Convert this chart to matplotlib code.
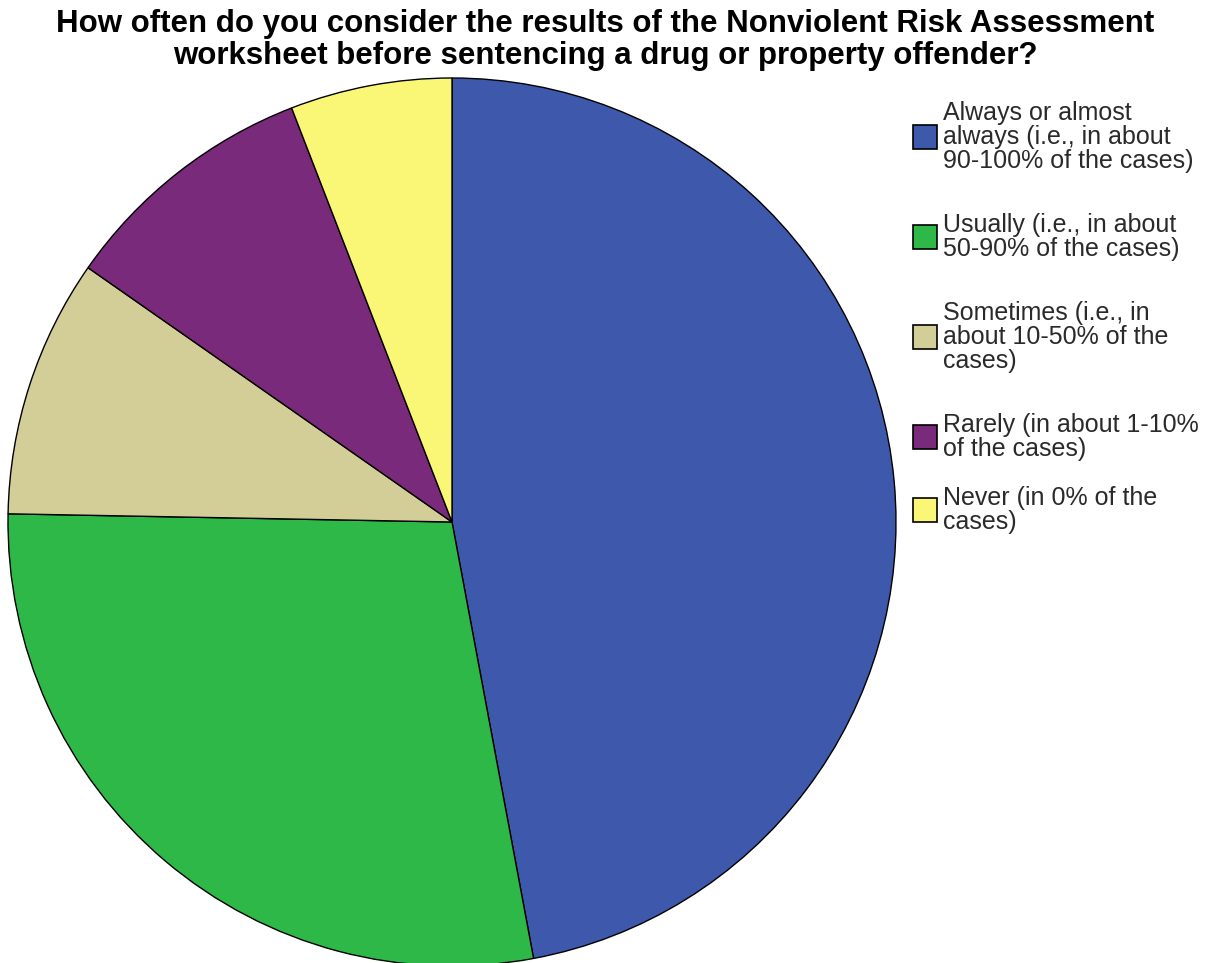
import matplotlib
matplotlib.use("Agg")
import matplotlib.pyplot as plt
from matplotlib.patches import Rectangle

categories = [
    "Always or almost\nalways (i.e., in about\n90-100% of the cases)",
    "Usually (i.e., in about\n50-90% of the cases)",
    "Sometimes (i.e., in\nabout 10-50% of the\ncases)",
    "Rarely (in about 1-10%\nof the cases)",
    "Never (in 0% of the\ncases)",
]
counts = [80, 48, 16, 16, 10]
colors = ["#3E58AC", "#2EB848", "#D3CE97", "#7A2A7A", "#FBF776"]
title = ("How often do you consider the results of the Nonviolent Risk Assessment\n"
         "worksheet before sentencing a drug or property offender?")

W, H = 1217, 963
fig = plt.figure(figsize=(W / 100, H / 100), dpi=100)
fig.patch.set_facecolor("white")

cx, cy, r = 452, 522, 444
ax = fig.add_axes([(cx - r) / W, (H - cy - r) / H, 2 * r / W, 2 * r / H])
ax.pie(counts, colors=colors, startangle=90, counterclock=False,
       wedgeprops=dict(edgecolor="black", linewidth=1.0))
ax.set_xlim(-1, 1)
ax.set_ylim(-1, 1)
ax.set_aspect("equal")
ax.axis("off")

fig.text(605 / W, 1 - 40 / H, title, ha="center", va="center",
         fontsize=22.5, fontweight="bold", family="Liberation Sans",
         linespacing=1.08)

box_centers = [137, 237, 337, 437, 510]
for lab, col, yc in zip(categories, colors, box_centers):
    fig.patches.append(Rectangle((913 / W, 1 - (yc + 12) / H), 24 / W, 24 / H,
                                 transform=fig.transFigure, facecolor=col,
                                 edgecolor="black", linewidth=1.2))
    fig.text(943 / W, 1 - yc / H, lab, ha="left", va="center",
             fontsize=18, family="Liberation Sans", color="#2a2a2a",
             linespacing=1.02)

fig.savefig("out.png", dpi=100)
